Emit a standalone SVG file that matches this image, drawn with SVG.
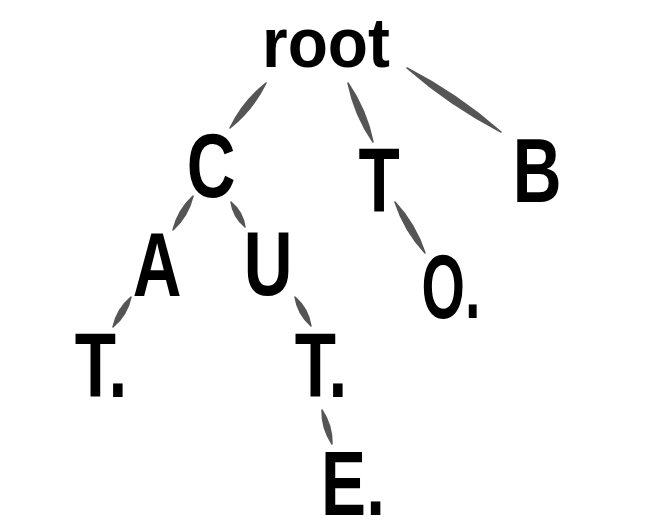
<svg xmlns="http://www.w3.org/2000/svg" width="650" height="523" viewBox="0 0 650 523">
<style>
.lbl{font-family:"Liberation Sans",Arial,sans-serif;font-weight:bold;font-size:90px;fill:#000;text-anchor:middle}
.small{font-size:70px}
.edge{fill:#555;stroke:#555;stroke-width:1.5;stroke-linejoin:round}
</style>
<rect width="650" height="523" fill="#fff"/>
<g id="connectors">
<path class="edge" d="M266,83 Q253.1,109.6 230,128 Q242.9,101.4 266,83Z"/>
<path class="edge" d="M348,83 Q366.5,110 373,142 Q354.5,115 348,83Z"/>
<path class="edge" d="M407,68 Q457.9,94.2 501,132 Q450.1,105.8 407,68Z"/>
<path class="edge" d="M193,196 Q188.2,216 173,230 Q177.8,210 193,196Z"/>
<path class="edge" d="M231,202 Q242.8,211.8 245,227 Q233.2,217.2 231,202Z"/>
<path class="edge" d="M395,202 Q415.6,224.2 425,253 Q404.4,230.8 395,202Z"/>
<path class="edge" d="M131,297 Q127.1,315.1 113,327 Q116.9,308.9 131,297Z"/>
<path class="edge" d="M295,297 Q308.3,308.6 311,326 Q297.7,314.4 295,297Z"/>
<path class="edge" d="M322,410 Q332.3,425.4 332,444 Q321.7,428.6 322,410Z"/>
</g>
<g id="root"><text class="lbl small" transform="translate(326,67) scale(0.94,1)">root</text></g>
<g id="C"><text class="lbl" transform="translate(211,197) scale(0.75,1)">C</text></g>
<g id="T"><text class="lbl" transform="translate(379,212) scale(0.75,1)">T</text></g>
<g id="B"><text class="lbl" transform="translate(537,202) scale(0.75,1)">B</text></g>
<g id="A"><text class="lbl" transform="translate(157,296) scale(0.75,1)">A</text></g>
<g id="U"><text class="lbl" transform="translate(268,295) scale(0.75,1)">U</text></g>
<g id="O"><text class="lbl" transform="translate(451,318) scale(0.62,1)">O.</text></g>
<g id="CAT"><text class="lbl" transform="translate(101,397) scale(0.75,1)">T.</text></g>
<g id="CUT"><text class="lbl" transform="translate(321,397) scale(0.75,1)">T.</text></g>
<g id="CUTE"><text class="lbl" transform="translate(353,515) scale(0.75,1)">E.</text></g>
</svg>
